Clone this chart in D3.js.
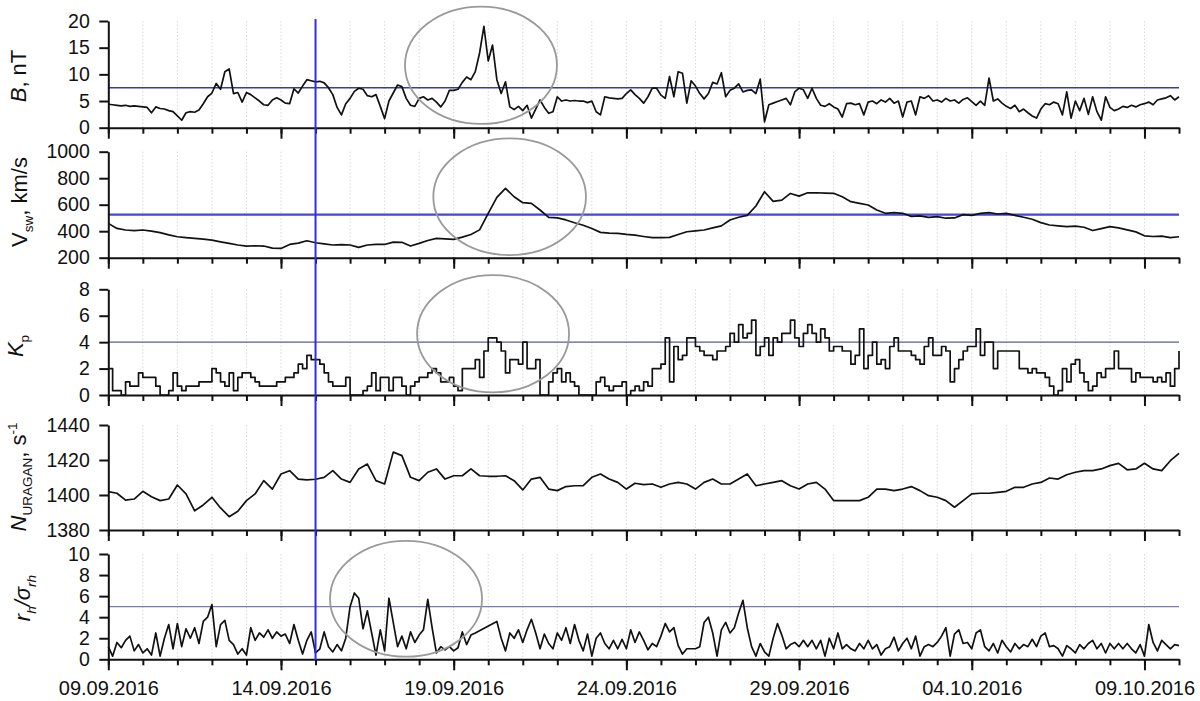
<!DOCTYPE html>
<html>
<head>
<meta charset="utf-8">
<script src="https://cdn.jsdelivr.net/npm/d3@7"></script>
<style>
  body { margin: 0; background: #fff; }
  svg { display: block; }
  text { font-family: "Liberation Sans", Arial, sans-serif; fill: #111; }
</style>
</head>
<body>
<svg id="chart" width="1200" height="701"></svg>
<script>
// time span of the plot, 09.09.2016 .. 10.10.2016 (UTC)
const startDate = new Date(Date.UTC(2016, 8, 9));
const endDate = new Date(Date.UTC(2016, 9, 10));
const tickLabels = ["09.09.2016", "14.09.2016", "19.09.2016", "24.09.2016", "29.09.2016", "04.10.2016", "09.10.2016"];
const markerLabel = "15.09.2016";

// B, nT - 3-hour samples
const bField = [
  4.4, 4.3, 4.2, 4.1, 4.2, 4.0, 4.1, 4.0,
  3.9, 3.8, 2.8, 3.9, 3.6, 3.5, 3.2, 3.0,
  2.2, 1.4, 2.8, 3.0, 2.9, 3.3, 4.5, 5.8,
  6.5, 8.3, 7.2, 10.5, 11.0, 6.4, 6.6, 4.8,
  6.6, 6.2, 5.6, 5.0, 4.3, 4.2, 5.2, 5.6,
  5.2, 4.6, 4.5, 7.3, 6.5, 7.8, 9.0, 8.8,
  8.6, 8.7, 8.4, 7.5, 6.2, 3.8, 2.4, 4.5,
  5.5, 6.8, 7.4, 7.2, 6.0, 5.8, 6.2, 4.0,
  1.7, 5.0, 6.5, 8.0, 7.7, 5.5, 4.2, 4.0,
  5.5, 5.8, 5.2, 5.5, 4.8, 3.9, 5.0, 7.0,
  7.0, 7.2, 8.5, 9.5, 9.0, 10.5, 14.0, 19.0,
  12.5, 15.5, 9.0, 6.4, 8.6, 3.9, 3.4, 4.0,
  3.2, 4.2, 1.8, 3.5, 5.2, 3.8, 2.7, 3.0,
  5.8, 5.0, 5.2, 5.0, 5.1, 5.0, 5.0, 4.7,
  5.0, 3.0, 2.4, 5.8, 5.6, 5.5, 5.4, 5.5,
  6.4, 7.1, 6.2, 5.5, 4.6, 5.8, 7.4, 7.4,
  6.1, 5.5, 9.6, 5.8, 10.5, 10.2, 4.6, 8.8,
  7.8, 6.4, 5.4, 6.4, 8.5, 8.2, 10.3, 5.8,
  7.0, 7.4, 8.2, 6.7, 7.0, 7.1, 6.4, 9.1,
  1.1, 4.3, 4.6, 4.9, 5.2, 5.5, 4.3, 6.7,
  7.4, 7.1, 5.5, 7.4, 5.5, 4.2, 4.0, 4.5,
  3.9, 3.5, 2.0, 4.5, 4.6, 4.3, 4.5, 2.4,
  4.8, 5.0, 4.5, 5.2, 4.8, 5.5, 4.6, 5.0,
  2.0, 4.8, 5.0, 2.4, 5.8, 5.5, 6.0, 5.0,
  5.2, 4.8, 5.5, 5.0, 5.2, 4.6, 5.3, 5.6,
  4.9, 4.2, 5.0, 4.2, 9.3, 5.0, 5.4, 4.6,
  4.0, 3.6, 4.2, 3.0, 3.5, 2.8, 2.2, 1.8,
  3.5, 4.5, 4.3, 4.8, 4.5, 2.4, 6.7, 1.8,
  5.0, 3.2, 5.5, 2.5, 5.8, 3.0, 1.4, 5.8,
  3.8, 3.2, 3.5, 4.0, 3.8, 4.2, 3.9, 4.3,
  4.5, 4.8, 4.3, 5.2, 5.4, 5.6, 6.0, 5.2,
  5.8
];

// solar wind speed, km/s - 6-hour samples
const vSw = [
  459, 421, 409, 405, 409, 401, 389, 372,
  358, 352, 346, 340, 333, 320, 308, 296,
  288, 290, 288, 272, 270, 300, 310, 328,
  313, 305, 296, 298, 296, 278, 296, 300,
  300, 318, 316, 288, 308, 330, 346, 342,
  338, 355, 375, 410, 535, 655, 723, 660,
  615, 610, 560, 505, 500, 485, 464, 445,
  420, 391, 386, 384, 376, 370, 360, 351,
  352, 353, 375, 396, 402, 409, 425, 440,
  485, 505, 520, 590, 698, 625, 635, 685,
  665, 690, 690, 688, 686, 660, 623, 610,
  598, 560, 535, 540, 535, 512, 515, 505,
  510, 498, 500, 525, 520, 535, 540, 530,
  535, 520, 505, 490, 465, 447, 440, 434,
  438, 430, 405, 420, 434, 425, 410, 395,
  365, 360, 363, 352, 358
];

// Kp index - 3-hour values
const kpIndex = [
  2, 0.33, 0.33, 0, 1, 0.67, 0.67, 1.67,
  1.33, 1.33, 1.33, 0.67, 0, 0, 0.33, 1.67,
  0.67, 0.33, 0.67, 0.67, 0.67, 1, 1, 1,
  2, 1.67, 1, 0.67, 1.67, 0.33, 1.33, 1.67,
  1.67, 1.33, 1, 0.67, 0.67, 0.67, 0.67, 1,
  1, 1.33, 1.33, 1.67, 2.33, 2, 3, 2.67,
  2.67, 2.33, 1.67, 1, 0.67, 0.67, 0.67, 1.33,
  0, 0, 0, 0.33, 0.67, 1.67, 0.33, 1.33,
  1.33, 0.33, 1.33, 1.33, 0.67, 0, 0.67, 1,
  1.33, 1.33, 1.67, 2, 1.67, 1, 1, 1.33,
  0.67, 0.33, 2, 2, 2, 2.67, 1.33, 3.33,
  4.33, 4.33, 4, 3.33, 1.67, 2.67, 2.67, 2.33,
  4, 2, 2, 2.67, 0, 0, 1, 1.67,
  2, 1, 1.67, 1, 0.67, 0, 0, 0,
  0, 1, 1.33, 0.67, 0.33, 0.67, 0.67, 1,
  0, 0.33, 0.67, 0.33, 1, 0.67, 2, 2,
  2.33, 4.33, 1, 3.67, 2.67, 3, 4.33, 4.33,
  3.67, 3.33, 3, 3, 2.67, 3.33, 3.33, 3.67,
  4.67, 4, 5.33, 4.33, 4.67, 5.67, 3, 3.67,
  4.33, 3, 4.33, 4, 4.67, 4.67, 5.67, 4.33,
  3.67, 4.67, 5.33, 4.67, 4, 5, 4.33, 3.33,
  3.67, 3.67, 3.33, 3.33, 2.33, 3, 5, 2,
  3, 4, 2.33, 2.67, 2, 3.67, 4.33, 3.33,
  3.33, 3.33, 3, 2.67, 2.33, 3.67, 4.33, 3,
  3, 3.67, 3.33, 1, 2, 2.67, 3.33, 3.67,
  3.67, 5, 3, 4, 4, 2, 3.33, 3.33,
  3.33, 3.33, 3.33, 2, 2, 1.67, 2, 1.67,
  1.67, 1.33, 0.67, 0, 0.33, 2, 1, 2.33,
  2.67, 1.67, 1, 0.33, 0.67, 1.67, 1.33, 2,
  2, 3.33, 2, 2, 2, 1, 1.67, 1.33,
  1.33, 1.33, 1, 1.33, 1, 1.67, 0.67, 2,
  3.33
];

// URAGAN count rate, 1/s - 6-hour samples
const nUragan = [
  1401.9, 1401.0, 1397.1, 1397.7, 1402.1, 1399.0, 1396.8, 1397.7,
  1405.7, 1400.6, 1391.0, 1394.3, 1398.7, 1392.6, 1387.6, 1390.7,
  1396.8, 1400.6, 1408.2, 1403.4, 1412.0, 1413.9, 1409.1, 1408.6,
  1409.0, 1410.1, 1413.9, 1409.1, 1407.2, 1414.9, 1417.7, 1408.2,
  1406.3, 1424.5, 1422.5, 1410.1, 1408.2, 1413.0, 1414.9, 1409.1,
  1411.0, 1411.0, 1414.9, 1411.0, 1410.7, 1410.7, 1411.0, 1408.2,
  1402.9, 1409.1, 1410.1, 1403.4, 1402.5, 1404.8, 1405.3, 1405.3,
  1410.1, 1412.0, 1409.1, 1407.2, 1403.4, 1406.7, 1405.9, 1406.3,
  1404.4, 1406.3, 1407.2, 1406.3, 1403.4, 1407.2, 1409.1, 1406.3,
  1406.3, 1409.1, 1412.0, 1405.3, 1406.3, 1407.2, 1408.2, 1405.3,
  1403.4, 1406.3, 1407.2, 1403.4, 1396.8, 1396.8, 1396.8, 1396.8,
  1398.7, 1403.4, 1403.4, 1402.5, 1403.4, 1404.8, 1402.5, 1399.6,
  1398.7, 1396.8, 1393.0, 1396.8, 1400.6, 1401.0, 1401.0, 1401.5,
  1402.1, 1404.4, 1404.4, 1406.3, 1407.2, 1409.7, 1409.1, 1411.6,
  1413.0, 1413.9, 1413.9, 1414.9, 1416.8, 1418.1, 1414.4, 1414.9,
  1418.1, 1414.9, 1413.9, 1419.6, 1423.8
];

// r_h / sigma_rh - 3-hour samples, null where there is no data
const rhRatio = [
  1.2, 0.3, 1.6, 1.1, 1.8, 2.2, 0.8, 1.4,
  0.6, 1.0, 0.4, 2.5, 0.3, 2.0, 3.3, 1.0,
  3.4, 1.2, 2.9, 2.0, 3.0, 1.5, 3.6, 4.0,
  5.2, 1.2, 3.3, 3.7, 1.8, 1.4, 0.5, 1.0,
  0.4, 3.0, 1.8, 2.5, 2.1, 2.8, 2.0, 2.6,
  2.2, 2.4, 1.5, 3.3, 1.8, 0.5, 1.8, 2.6,
  0.6, 1.0, 2.6, 1.2, 0.7, 1.4, 0.8, 2.0,
  5.0, 6.3, 5.8, 2.9, 4.6, 2.5, 0.4, 2.8,
  0.8, 5.8, 3.5, 1.2, 2.2, 1.0, 2.6, 1.6,
  2.3, 2.8, 5.7, 3.0, 0.6, 1.2, 0.9, 1.2,
  0.8, 1.1, 2.6, 1.4, 2.3, 2.5, null, null,
  null, null, 3.6, 2.0, 0.8, 2.5, 2.0, 2.8,
  1.6, 2.8, 3.8, 2.5, 1.0, 2.4, 1.5, 1.0,
  2.5, 1.8, 3.0, 1.5, 3.3, 1.8, 0.8, 2.4,
  0.3, 2.0, 2.5, 1.5, 1.0, 1.8, 1.0, 1.9,
  1.0, 2.8, 1.6, 2.6, 1.8, 0.9, 1.5, 1.2,
  2.2, 3.4, 2.6, 3.0, 1.3, 0.5, 1.0, 1.0,
  1.0, 1.2, 3.5, 4.0, 2.5, 0.3, 2.8, 3.5,
  2.5, 3.0, 4.4, 5.6, 3.0, 1.2, 0.3, 1.5,
  0.7, 0.3, 2.0, 3.4, 2.3, 1.0, 1.4, 1.6,
  1.2, 1.8, 1.2, 1.8, 1.0, 1.8, 0.3, 2.0,
  1.0, 2.5, 1.0, 1.4, 1.0, 0.8, 1.5, 1.0,
  1.8, 1.0, 1.4, 0.4, 1.0, 1.2, 2.1, 0.8,
  1.5, 2.0, 1.0, 2.2, 0.3, 1.2, 1.4, 1.2,
  1.6, 2.2, 3.0, 0.3, 2.4, 2.8, 1.5, 1.6,
  1.0, 2.5, 2.8, 1.2, 0.8, 1.5, 0.6, 1.8,
  1.2, 0.7, 1.5, 1.0, 1.4, 1.2, 1.9, 1.2,
  2.2, 2.5, 1.2, 1.3, 1.0, 0.3, 1.3, 1.0,
  0.6, 1.4, 1.0, 1.5, 1.8, 1.0, 1.5, 0.6,
  1.5, 1.0, 1.5, 1.0, 1.5, 1.0, 0.6, 1.4,
  0.3, 3.3, 1.6, 0.8, 1.8, 1.4, 1.0, 1.4,
  1.3
];

// threshold levels and y-axis ticks
const thresholds = [7.5, 525, 4, null, 5];
const yTicks = [
  [0, 5, 10, 15, 20],
  [200, 400, 600, 800, 1000],
  [0, 2, 4, 6, 8],
  [1380, 1400, 1420, 1440],
  [0, 2, 4, 6, 8, 10]
];

// highlighted intervals: centre (days from start, value) and half sizes
const ellipses = [
  { panel: 0, day: 10.79, value: 11.7, halfDays: 2.2, halfValue: 11 },
  { panel: 1, day: 11.62, value: 660, halfDays: 2.21, halfValue: 440 },
  { panel: 2, day: 11.14, value: 4.64, halfDays: 2.2, halfValue: 4.44 },
  { panel: 4, day: 8.62, value: 5.75, halfDays: 2.2, halfValue: 5.5 }
];

const titles = [
  [["B", "i"], [", nT", ""]],
  [["V", ""], ["sw", "sub"], [", km/s", ""]],
  [["K", "i"], ["p", "sub"]],
  [["N", "i"], ["URAGAN", "sub"], [", s", ""], ["-1", "sup"]],
  [["r", "i"], ["h", "isub"], ["/σ", "i"], ["rh", "isub"]]
];

const series = [bField, vSw, kpIndex, nUragan, rhRatio];
const stepHours = [3, 6, 3, 6, 3];

// layout
const layout = [
  { top: 21, bottom: 127.7, labelX: 26, labelY: 76, thColor: "#3d3d8f", thWidth: 1.6 },
  { top: 151.7, bottom: 257.7, labelX: 27, labelY: 202, thColor: "#4545e0", thWidth: 2.2 },
  { top: 289.3, bottom: 395, labelX: 23, labelY: 346, thColor: "#5a5a9c", thWidth: 1.2 },
  { top: 425, bottom: 530, labelX: 26, labelY: 477, thColor: null, thWidth: 0 },
  { top: 554, bottom: 659.3, labelX: 30, labelY: 598, thColor: "#7a7ab4", thWidth: 1.2 }
];

const parseDay = d3.utcParse("%d.%m.%Y");
const majorDates = tickLabels.map(parseDay);
const markerDate = parseDay(markerLabel);
const allDays = d3.utcDay.range(startDate, d3.utcDay.offset(endDate, 1));

const svg = d3.select("#chart");
const x = d3.scaleUtc().domain([startDate, endDate]).range([108.3, 1179]);
const dayDate = d => d3.utcMinute.offset(startDate, Math.round(d * 1440));

function styleAxis(g) {
  g.selectAll("path, line").attr("stroke", "#111").attr("stroke-width", 2);
}

layout.forEach((p, k) => {
  const y = d3.scaleLinear()
    .domain(d3.extent(yTicks[k]))
    .range([p.bottom, p.top]);

  // dotted day grid
  svg.append("g")
    .selectAll("line")
    .data(allDays.slice(1, -1))
    .join("line")
    .attr("x1", d => x(d)).attr("x2", d => x(d))
    .attr("y1", p.top).attr("y2", p.bottom)
    .attr("stroke", "#d8d8d8")
    .attr("stroke-width", 1)
    .attr("stroke-dasharray", "1.5,2");

  // threshold
  if (thresholds[k] !== null) {
    svg.append("line")
      .attr("x1", x(startDate)).attr("x2", x(endDate))
      .attr("y1", y(thresholds[k])).attr("y2", y(thresholds[k]))
      .attr("stroke", p.thColor)
      .attr("stroke-width", p.thWidth);
  }

  // data
  const pts = series[k]
    .map((v, i) => ({ date: d3.utcHour.offset(startDate, i * stepHours[k]), v }))
    .filter(d => d.v !== null);

  svg.append("path")
    .datum(pts)
    .attr("fill", "none")
    .attr("stroke", "#111")
    .attr("stroke-width", 1.7)
    .attr("stroke-linejoin", "round")
    .attr("d", d3.line()
      .curve(k === 2 ? d3.curveStepAfter : d3.curveLinear)
      .x(d => x(d.date))
      .y(d => y(d.v)));

  // x axis: daily minor ticks, 5-day major ticks
  svg.append("g")
    .attr("transform", `translate(0,${p.bottom})`)
    .call(d3.axisBottom(x).tickValues(allDays).tickSize(6).tickSizeOuter(0).tickFormat(""))
    .call(styleAxis);

  const major = svg.append("g")
    .attr("transform", `translate(0,${p.bottom})`)
    .call(d3.axisBottom(x).tickValues(majorDates).tickSize(11).tickSizeOuter(0)
      .tickFormat((d, i) => k === 4 ? tickLabels[i] : ""))
    .call(styleAxis);
  major.select(".domain").remove();
  major.selectAll("text")
    .style("font-size", "20px")
    .style("font-family", "Liberation Sans, Arial, sans-serif")
    .attr("fill", "#111")
    .attr("y", 22);

  // y axis
  const ya = svg.append("g")
    .attr("transform", `translate(${x(startDate)},0)`)
    .call(d3.axisLeft(y).tickValues(yTicks[k]).tickFormat(d3.format("d"))
      .tickSize(9).tickSizeOuter(0).tickPadding(9))
    .call(styleAxis);
  ya.selectAll("text")
    .style("font-size", "19.5px")
    .style("font-family", "Liberation Sans, Arial, sans-serif")
    .attr("fill", "#111")
    .attr("x", -18.5);

  // rotated axis title
  const t = svg.append("text")
    .attr("transform", `translate(${p.labelX},${p.labelY}) rotate(-90)`)
    .attr("text-anchor", "middle")
    .style("font-size", "22px");
  let shift = 0;
  titles[k].forEach(([txt, kind]) => {
    const sp = t.append("tspan").text(txt);
    let target = 0;
    if (kind === "sub" || kind === "isub") { sp.style("font-size", "13.5px"); target = 6; }
    if (kind === "sup") { sp.style("font-size", "13.5px"); target = -9; }
    if (kind === "i" || kind === "isub") sp.attr("font-style", "italic");
    sp.attr("dy", target - shift);
    shift = target;
  });
});

// marked day
svg.append("line")
  .attr("x1", x(markerDate)).attr("x2", x(markerDate))
  .attr("y1", 19).attr("y2", 660)
  .attr("stroke", "#2f2fe0")
  .attr("stroke-width", 2);

// highlighted intervals
ellipses.forEach(e => {
  const p = layout[e.panel];
  const y = d3.scaleLinear().domain(d3.extent(yTicks[e.panel])).range([p.bottom, p.top]);
  const cx = x(dayDate(e.day));
  svg.append("ellipse")
    .attr("cx", cx)
    .attr("cy", y(e.value))
    .attr("rx", x(dayDate(e.day + e.halfDays)) - cx)
    .attr("ry", y(e.value - e.halfValue) - y(e.value))
    .attr("fill", "none")
    .attr("stroke", "#9a9a9a")
    .attr("stroke-width", 1.8);
});
</script>
</body>
</html>
